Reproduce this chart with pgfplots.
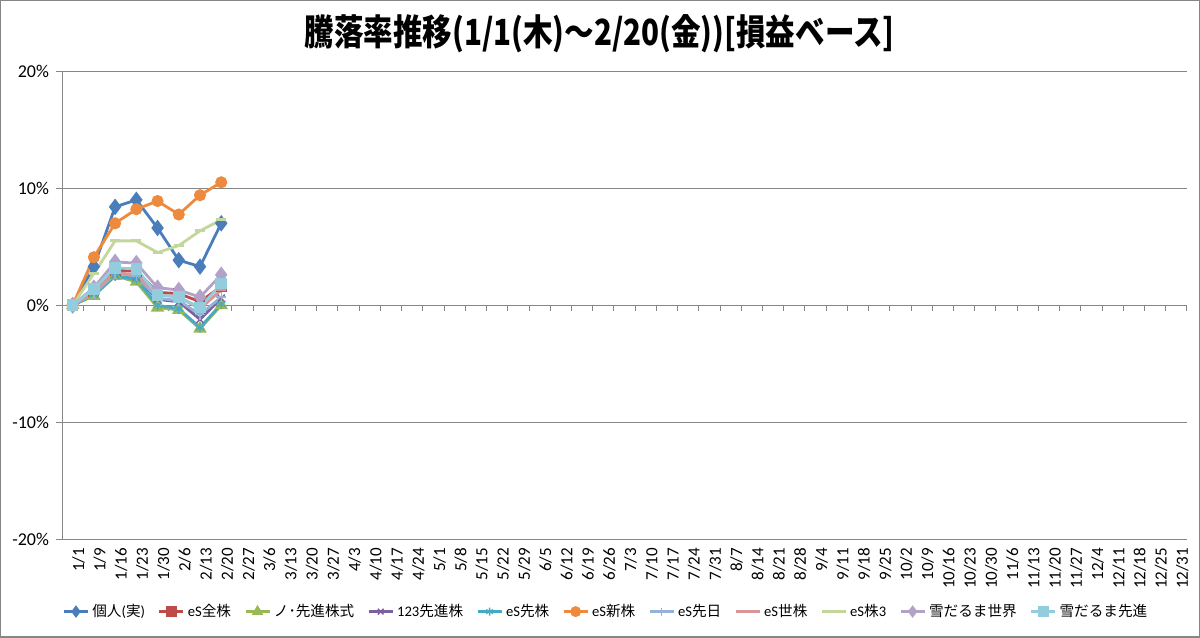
\documentclass[border=0pt]{standalone}
\usepackage{pgfplots}
\pgfplotsset{compat=1.18}
\usepackage{fontspec}
\setmainfont{Carlito}
\newfontfamily\jp{Noto Sans CJK JP}
\newfontfamily\jptitle[FakeStretch=0.82]{Noto Sans CJK JP}
\definecolor{c1}{HTML}{4A7EBB}
\definecolor{c2}{HTML}{BE4B48}
\definecolor{c3}{HTML}{98B954}
\definecolor{c4}{HTML}{7D60A0}
\definecolor{c5}{HTML}{46AAC5}
\definecolor{c6}{HTML}{EE8A3E}
\definecolor{c7}{HTML}{95B3D7}
\definecolor{c8}{HTML}{D99694}
\definecolor{c9}{HTML}{C3D69B}
\definecolor{c10}{HTML}{B3A2C7}
\definecolor{c11}{HTML}{93CDDD}
\definecolor{gridg}{RGB}{134,134,134}
\begin{document}
\begin{tikzpicture}
\begin{axis}[
  at={(0pt,0pt)}, anchor=south west,
  scale only axis, width=562pt, height=234pt,
  xmin=-0.5, xmax=52.5, ymin=-20, ymax=20,
  axis x line*=bottom, axis y line*=left,
  x axis line style={draw=none},
  y axis line style={draw=gridg, line width=0.5pt},
  ytick={-20,-10,0,10,20},
  yticklabels={-20\%,-10\%,0\%,10\%,20\%},
  ymajorgrids, grid style={gridg, line width=0.5pt},
  xtick={0,...,52},
  xticklabels={1/1,1/9,1/16,1/23,1/30,2/6,2/13,2/20,2/27,3/6,3/13,3/20,3/27,4/3,4/10,4/17,4/24,5/1,5/8,5/15,5/22,5/29,6/5,6/12,6/19,6/26,7/3,7/10,7/17,7/24,7/31,8/7,8/14,8/21,8/28,9/4,9/11,9/18,9/25,10/2,10/9,10/16,10/23,10/30,11/6,11/13,11/20,11/27,12/4,12/11,12/18,12/25,12/31},
  x tick style={draw=none},
  y tick style={draw=gridg, line width=0.5pt},
  major tick length=3pt, tick align=outside,
  xticklabel style={rotate=90, anchor=east, font=\fontsize{8.5}{9}\selectfont, inner sep=1pt},
  yticklabel style={font=\fontsize{9}{10}\selectfont},
  x tick label style={yshift=-3pt},
  every axis plot/.append style={line width=1.4pt, mark options={solid}},
  legend style={at={(0.483,-0.154)}, anchor=center, draw=none, fill=none,
    font=\fontsize{7.3}{9}\selectfont, column sep=1pt,
    nodes={inner sep=0.5pt},
    /tikz/every even column/.append style={column sep=6pt}},
  legend columns=11,
  legend image code/.code={\draw[mark repeat=2,mark phase=2,mark size=2pt] plot coordinates {(0pt,0pt)(6pt,0pt)(12pt,0pt)};},
  clip=false,
]
\draw[gridg, line width=0.5pt] (axis cs:-0.5,0) -- (axis cs:52.5,0);
\pgfplotsinvokeforeach{0.5,1.5,...,52.5}{\draw[gridg, line width=0.5pt] (axis cs:#1,0) -- ++(0pt,-3pt);}
\addplot[c1, mark=diamond*, mark size=3pt] coordinates {(0,0)(1,3.3)(2,8.4)(3,9.0)(4,6.6)(5,3.85)(6,3.3)(7,7.0)};
\addlegendentry{{\jp 個人}({\jp 実})}
\addplot[c2, mark=square*, mark size=2pt] coordinates {(0,0)(1,1.2)(2,3.0)(3,2.9)(4,1.1)(5,1.0)(6,0.3)(7,1.6)};
\addlegendentry{eS{\jp 全株}}
\addplot[c3, mark=triangle*, mark size=2.5pt] coordinates {(0,0)(1,0.8)(2,2.5)(3,2.0)(4,-0.2)(5,-0.4)(6,-2.0)(7,0.0)};
\addlegendentry{{\jp ノ･先進株式}}
\addplot[c4, mark=x, mark size=2.5pt, mark options={line width=0.7pt}] coordinates {(0,0)(1,1.0)(2,2.6)(3,2.4)(4,0.5)(5,0.3)(6,-1.2)(7,0.6)};
\addlegendentry{123{\jp 先進株}}
\addplot[c5, mark=asterisk, mark size=2.5pt, mark options={line width=0.7pt}] coordinates {(0,0)(1,0.9)(2,2.5)(3,2.2)(4,0.0)(5,-0.3)(6,-1.9)(7,0.1)};
\addlegendentry{eS{\jp 先株}}
\addplot[c6, mark=*, mark size=2.3pt] coordinates {(0,0)(1,4.1)(2,7.0)(3,8.2)(4,8.9)(5,7.75)(6,9.4)(7,10.5)};
\addlegendentry{eS{\jp 新株}}
\addplot[c7, mark=+, mark size=2.5pt, mark options={line width=0.7pt}] coordinates {(0,0)(1,1.0)(2,2.7)(3,2.5)(4,0.6)(5,0.4)(6,-0.8)(7,0.7)};
\addlegendentry{eS{\jp 先日}}
\addplot[c8, mark=-, mark size=2.5pt] coordinates {(0,0)(1,1.1)(2,2.8)(3,2.6)(4,0.9)(5,0.7)(6,-0.3)(7,1.3)};
\addlegendentry{eS{\jp 世株}}
\addplot[c9, mark=-, mark size=2.5pt] coordinates {(0,0)(1,2.7)(2,5.5)(3,5.5)(4,4.5)(5,5.1)(6,6.35)(7,7.3)};
\addlegendentry{eS{\jp 株}3}
\addplot[c10, mark=diamond*, mark size=3pt] coordinates {(0,0)(1,1.5)(2,3.7)(3,3.6)(4,1.5)(5,1.3)(6,0.7)(7,2.6)};
\addlegendentry{{\jp 雪だるま世界}}
\addplot[c11, mark=square*, mark size=2.2pt] coordinates {(0,0)(1,1.4)(2,3.2)(3,3.1)(4,0.9)(5,0.7)(6,-0.2)(7,1.85)};
\addlegendentry{{\jp 雪だるま先進}}
\end{axis}
\node[font=\jptitle\bfseries\fontsize{18}{20}\selectfont, anchor=center] at (268.5pt,252.5pt) {騰落率推移(1/1(木)～2/20(金))[損益ベース]};
\draw[gridg, line width=0.6pt] (-30.7pt,-48.7pt) rectangle (568.2pt,269.2pt);
\end{tikzpicture}
\end{document}
